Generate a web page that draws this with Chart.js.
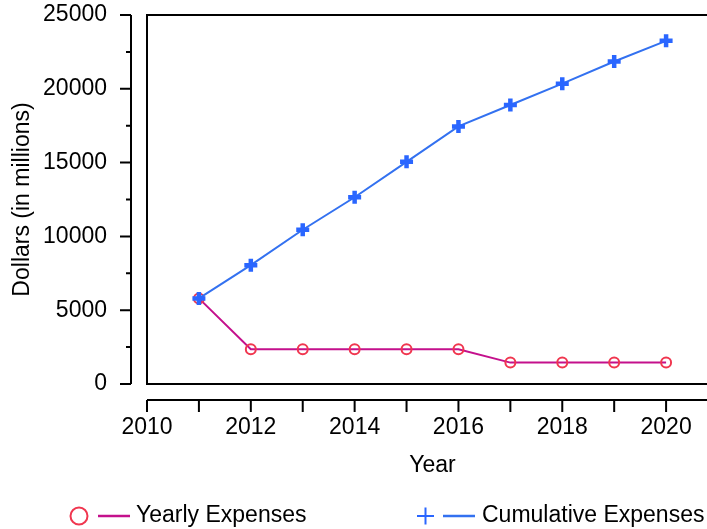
<!DOCTYPE html>
<html>
<head>
<meta charset="utf-8">
<title>Yearly and Cumulative Expenses</title>
<script src="https://cdn.jsdelivr.net/npm/chart.js@4.4.1/dist/chart.umd.min.js"></script>
<style>
    html, body { margin: 0; padding: 0; background: #fff; overflow: hidden; }
    #wrap { width: 707px; height: 529px; overflow: hidden; }
</style>
</head>
<body>
<div id="wrap"><canvas id="expensesChart" width="740" height="529"></canvas></div>
<script>
const years = [2011, 2012, 2013, 2014, 2015, 2016, 2017, 2018, 2019, 2020];
const yearlyExpenses = [5800, 2350, 2350, 2350, 2350, 2350, 1450, 1450, 1450, 1450];
const cumulativeExpenses = [5800, 8050, 10450, 12650, 15050, 17450, 18900, 20350, 21850, 23250];
const xTickLabels = [2010, 2012, 2014, 2016, 2018, 2020];
const yTickLabels = [0, 5000, 10000, 15000, 20000, 25000];

const yearlyLine = '#c4108c';
const yearlyMarker = '#f0364f';
const cumulativeLine = '#3371f0';
const cumulativeMarker = '#2a66ff';

Chart.defaults.font.family = "'Liberation Sans', Arial, sans-serif";
Chart.defaults.font.size = 23;
Chart.defaults.color = '#000';

// axes sit a little away from the plot box, so they are drawn here
const offsetAxes = {
    id: 'offsetAxes',
    afterDraw(chart) {
        const { ctx, chartArea, scales } = chart;
        const x = scales.x;
        const y = scales.y;
        ctx.save();
        ctx.strokeStyle = '#000';
        ctx.lineWidth = 2;
        ctx.strokeRect(chartArea.left, chartArea.top, chartArea.right - chartArea.left, chartArea.bottom - chartArea.top);

        const axisX = chartArea.left - 16;
        ctx.beginPath();
        ctx.moveTo(axisX, y.getPixelForValue(y.min));
        ctx.lineTo(axisX, y.getPixelForValue(y.max));
        y.ticks.forEach(t => {
            const py = y.getPixelForValue(t.value);
            const len = yTickLabels.includes(t.value) ? 11 : 5;
            ctx.moveTo(axisX, py);
            ctx.lineTo(axisX - len, py);
        });

        const axisY = chartArea.bottom + 16;
        ctx.moveTo(x.getPixelForValue(x.min), axisY);
        ctx.lineTo(x.getPixelForValue(x.max), axisY);
        x.ticks.forEach(t => {
            const px = x.getPixelForValue(t.value);
            ctx.moveTo(px, axisY);
            ctx.lineTo(px, axisY + 12);
        });
        ctx.stroke();
        ctx.restore();
    }
};

// legend row under the chart: marker, line sample, label
const bottomLegend = {
    id: 'bottomLegend',
    afterDraw(chart) {
        const ctx = chart.ctx;
        const ds = chart.data.datasets;
        const cy = 516;
        ctx.save();
        ctx.font = "23px 'Liberation Sans', Arial, sans-serif";
        ctx.textBaseline = 'middle';
        ctx.fillStyle = '#000';

        // yearly
        ctx.lineWidth = 2;
        ctx.strokeStyle = ds[0].pointBorderColor;
        ctx.beginPath();
        ctx.arc(79, cy, 8.5, 0, Math.PI * 2);
        ctx.stroke();
        ctx.lineWidth = 2.5;
        ctx.strokeStyle = ds[0].borderColor;
        ctx.beginPath();
        ctx.moveTo(98, cy);
        ctx.lineTo(130, cy);
        ctx.stroke();
        ctx.fillText(ds[0].label, 136, cy);

        // cumulative
        ctx.lineWidth = 2;
        ctx.strokeStyle = ds[1].pointBorderColor;
        ctx.beginPath();
        ctx.moveTo(417, cy);
        ctx.lineTo(434, cy);
        ctx.moveTo(425.5, cy - 8.5);
        ctx.lineTo(425.5, cy + 8.5);
        ctx.stroke();
        ctx.lineWidth = 2.5;
        ctx.strokeStyle = ds[1].borderColor;
        ctx.beginPath();
        ctx.moveTo(443, cy);
        ctx.lineTo(475, cy);
        ctx.stroke();
        ctx.fillText(ds[1].label, 482, cy);
        ctx.restore();
    }
};

new Chart(document.getElementById('expensesChart'), {
    type: 'line',
    data: {
        datasets: [{
            label: 'Yearly Expenses',
            data: years.map((yr, i) => ({ x: yr, y: yearlyExpenses[i] })),
            borderColor: yearlyLine,
            borderWidth: 2,
            pointStyle: 'circle',
            pointRadius: 5,
            pointBorderWidth: 2,
            pointBorderColor: yearlyMarker,
            pointBackgroundColor: 'rgba(0,0,0,0)',
            tension: 0,
            order: 1
        }, {
            label: 'Cumulative Expenses',
            data: years.map((yr, i) => ({ x: yr, y: cumulativeExpenses[i] })),
            borderColor: cumulativeLine,
            borderWidth: 2,
            pointStyle: 'cross',
            pointRadius: 6.5,
            pointBorderWidth: 4.5,
            pointBorderColor: cumulativeMarker,
            tension: 0,
            order: 0
        }]
    },
    options: {
        responsive: false,
        animation: false,
        devicePixelRatio: 1,
        layout: { padding: { top: 15, right: 22, bottom: 50, left: 0 } },
        plugins: {
            legend: { display: false },
            tooltip: { enabled: false }
        },
        scales: {
            x: {
                type: 'linear',
                min: 2010,
                max: 2021,
                // hidden grid, its tick length only spaces the labels
                grid: { display: false, drawTicks: true, tickLength: 30 },
                border: { display: false },
                ticks: {
                    stepSize: 1,
                    autoSkip: false,
                    maxRotation: 0,
                    padding: 0,
                    callback: v => xTickLabels.includes(v) ? String(v) : ''
                },
                title: { display: true, text: 'Year', padding: { top: 0, bottom: 0 } },
                afterFit: scale => { scale.height = 95; }
            },
            y: {
                type: 'linear',
                min: 0,
                max: 25000,
                grid: { display: false, drawTicks: true, tickLength: 40 },
                border: { display: false },
                ticks: {
                    stepSize: 2500,
                    autoSkip: false,
                    padding: 0,
                    callback: v => yTickLabels.includes(v) ? String(v) : ''
                },
                title: { display: true, text: 'Dollars (in millions)', padding: { top: 9, bottom: 0 } },
                afterFit: scale => { scale.width = 147; }
            }
        }
    },
    plugins: [offsetAxes, bottomLegend]
});
</script>
</body>
</html>
